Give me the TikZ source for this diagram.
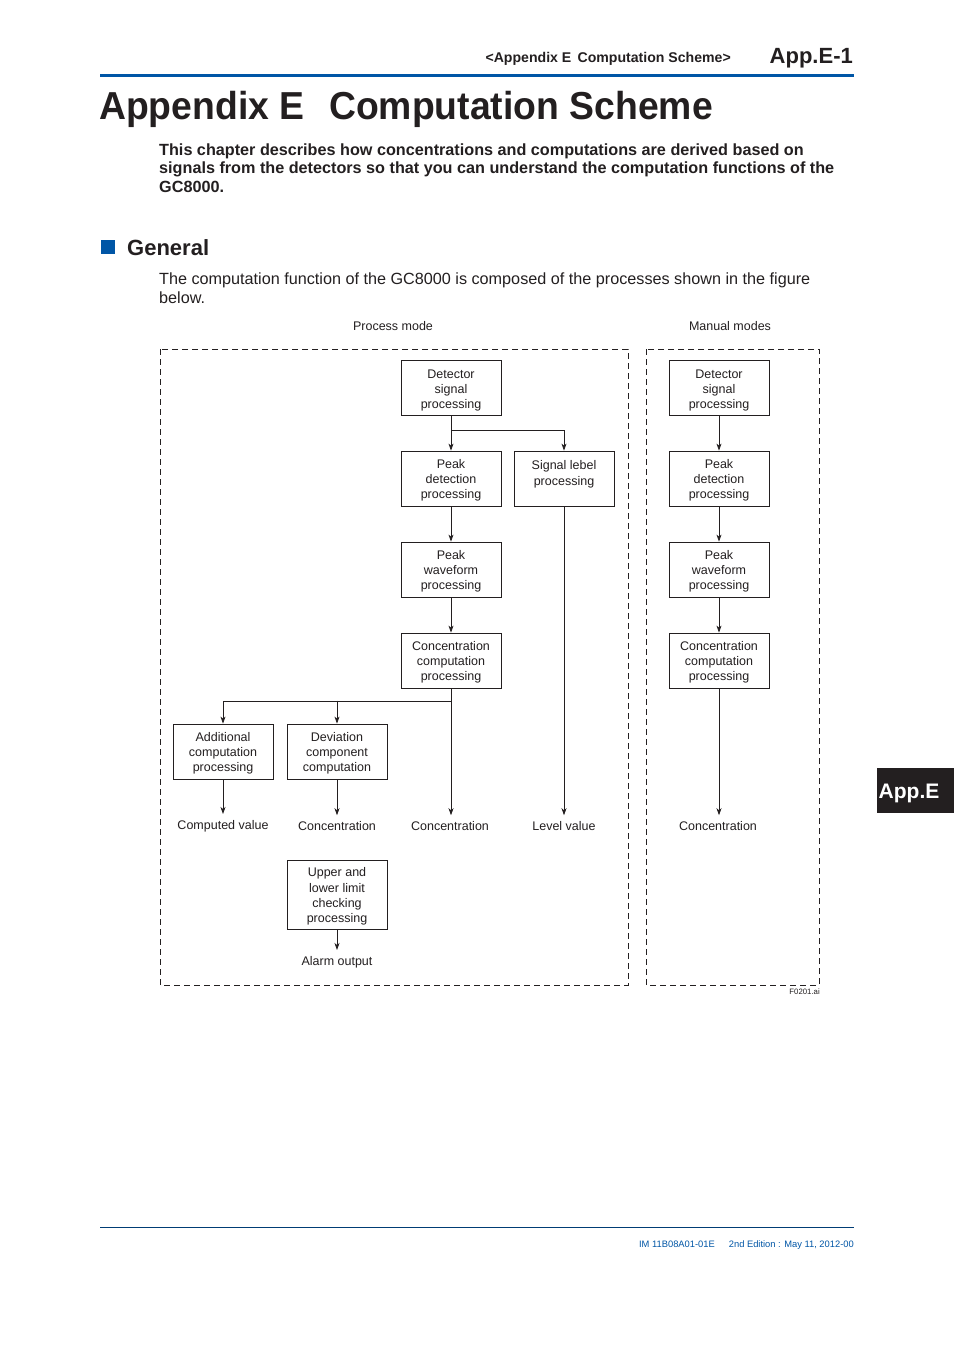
\documentclass[tikz,border=0pt]{standalone}
\usepackage{fontspec}
\setmainfont{Liberation Sans}
\usetikzlibrary{arrows.meta}
\definecolor{yblue}{RGB}{0,86,166}
\definecolor{ink}{RGB}{35,31,32}
\newcommand{\topstrut}{\rule{0pt}{13pt}}
\tikzset{
  box/.style={draw=ink, line width=0.8pt, minimum width=100pt, minimum height=55pt, align=center, inner sep=1pt, text=ink, font=\fontsize{12.5}{15.2}\selectfont},
  lab/.style={text=ink, inner sep=6pt, font=\fontsize{12.5}{15}\selectfont},
  arr/.style={draw=ink, line width=0.8pt, -{Stealth[length=7pt,width=5pt,inset=2pt]}},
  dbox/.style={draw=ink, line width=0.8pt, dash pattern=on 6pt off 4pt},
}
\begin{document}
\begin{tikzpicture}[x=1pt,y=-1pt]
\useasboundingbox[fill=white] (0,0) rectangle (954,1350);
% header
\node[anchor=base east, inner sep=0, font=\bfseries\fontsize{14.1}{17}\selectfont, text=ink] (hdr) at (731,62) {<Appendix E\, Computation Scheme>};
\node[anchor=base east, inner sep=0, font=\bfseries\fontsize{22}{26}\selectfont, text=ink] (pg) at (853,63) {App.E-1};
\fill[yblue] (100,73.5) rectangle (854,76.5);
\node[anchor=base west, inner sep=0, font=\bfseries\fontsize{39}{44}\selectfont, text=ink] (title) at (99,119) {\scalebox{0.957}[1]{Appendix E}};
\node[anchor=base west, inner sep=0, font=\bfseries\fontsize{39}{44}\selectfont, text=ink] (title2) at (329,119) {\scalebox{0.957}[1]{Computation Scheme}};
% intro
\node[anchor=base west, inner sep=0, font=\bfseries\fontsize{16.2}{19}\selectfont, text=ink] (i1) at (159,155) {This chapter describes how concentrations and computations are derived based on};
\node[anchor=base west, inner sep=0, font=\bfseries\fontsize{16.2}{19}\selectfont, text=ink] (i2) at (159,173.5) {signals from the detectors so that you can understand the computation functions of the};
\node[anchor=base west, inner sep=0, font=\bfseries\fontsize{16.2}{19}\selectfont, text=ink] (i3) at (159,192) {GC8000.};
% General
\fill[yblue] (101,240) rectangle (115,254);
\node[anchor=base west, inner sep=0, font=\bfseries\fontsize{22}{26}\selectfont, text=ink] (gen) at (127,255.5) {General};
\node[anchor=base west, inner sep=0, font=\fontsize{16.2}{19}\selectfont, text=ink] (g1) at (159,284) {The computation function of the GC8000 is composed of the processes shown in the figure};
\node[anchor=base west, inner sep=0, font=\fontsize{16.2}{19}\selectfont, text=ink] (g2) at (159,303) {below.};
% diagram titles
\node[lab] (pm) at (393,326) {Process mode};
\node[lab] (mm) at (730,326) {Manual modes};
% dashed frames
\draw[dbox] (160,349) rectangle (628,985);
\draw[dbox] (646,349) rectangle (819,985);
\node[anchor=base east, inner sep=0, font=\fontsize{7.8}{9}\selectfont, text=ink] (fig) at (820,994) {F0201.ai};
% process mode boxes
\node[box] (det) at (451,388) {\topstrut Detector\\signal\\processing};
\node[box] (pd) at (451,478.5) {\topstrut Peak\\detection\\processing};
\node[box] (sl) at (564,478.5) {Signal lebel\\processing\rule[-11pt]{0pt}{0pt}};
\node[box] (pw) at (451,569.5) {\topstrut Peak\\waveform\\processing};
\node[box] (cc) at (451,660.5) {\topstrut Concentration\\computation\\processing};
\node[box] (ad) at (223,751.5) {\topstrut Additional\\computation\\processing};
\node[box] (dv) at (337,751.5) {\topstrut Deviation\\component\\computation};
\node[box, minimum height=69pt] (ul) at (337,894.5) {\topstrut Upper and\\lower limit\\checking\\processing};
\node[lab] (cv) at (223,826) {Computed value};
\node[lab] (c1) at (337,826) {Concentration};
\node[lab] (c2) at (450,826) {Concentration};
\node[lab] (lv) at (564,826) {Level value};
\node[lab] (ao) at (337,962) {Alarm output};
\draw[arr] (det) -- (pd);
\draw[arr] (det.south) ++(0,14) -| (sl.north);
\draw[arr] (pd) -- (pw);
\draw[arr] (pw) -- (cc);
\draw[arr] (cc.south) -- (cc.south |- c2.north);
\draw[arr] (cc.south) ++(0,13) -| (ad.north);
\draw[arr] (dv.north) ++(0,-23) -- (dv.north);
\draw[arr] (sl.south) -- (sl.south |- lv.north);
\draw[arr] (ad.south) -- (ad.south |- cv.north);
\draw[arr] (dv.south) -- (dv.south |- c1.north);
\draw[arr] (ul.south) -- (ul.south |- ao.north);
% manual mode
\node[box] (mdet) at (719,388) {\topstrut Detector\\signal\\processing};
\node[box] (mpd) at (719,478.5) {\topstrut Peak\\detection\\processing};
\node[box] (mpw) at (719,569.5) {\topstrut Peak\\waveform\\processing};
\node[box] (mcc) at (719,660.5) {\topstrut Concentration\\computation\\processing};
\node[lab] (mc) at (718,826) {Concentration};
\draw[arr] (mdet) -- (mpd);
\draw[arr] (mpd) -- (mpw);
\draw[arr] (mpw) -- (mcc);
\draw[arr] (mcc.south) -- (mcc.south |- mc.north);
% tab
\fill[ink] (877,768) rectangle (954,813);
\node[anchor=base west, inner sep=0, text=white, font=\bfseries\fontsize{21}{25}\selectfont] (tab) at (878.5,798) {App.E};
% footer
\draw[yblue!70!black, line width=0.6pt] (100,1227) -- (854,1227);
\node[anchor=base east, inner sep=0, font=\fontsize{9.35}{11}\selectfont, text=yblue] (ft) at (854,1247) {IM 11B08A01-01E\hspace{1.5em}2nd Edition : May 11, 2012-00};
\end{tikzpicture}
\end{document}
